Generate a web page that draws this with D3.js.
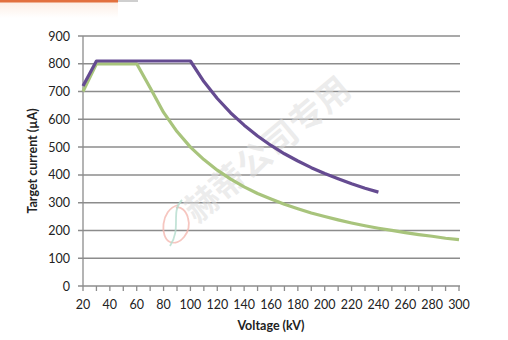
<!DOCTYPE html>
<html><head><meta charset="utf-8">
<script src="https://cdn.jsdelivr.net/npm/d3@7"></script>
<style>body{margin:0;background:#fff}svg{display:block}</style>
</head><body><svg id="c" width="508" height="340"></svg>
<script>
const voltages = [20,30,40,50,60,70,80,90,100,110,120,130,140,150,160,170,180,190,200,210,220,230,240,250,260,270,280,290,300];
const purpleSeries = [720,810,810,810,810,810,810,810,810,736,675,623,579,540,506,476,450,426,405,386,368,352,338];
const greenSeries = [700,800,800,800,800,714,625,556,500,455,417,385,357,333,313,294,278,263,250,238,227,217,208,200,192,185,179,172,167];
const yTicks = [0,100,200,300,400,500,600,700,800,900];
const xTickLabels = [20,40,60,80,100,120,140,160,180,200,220,240,260,280,300];
const xMinorTicks = voltages;
const yTitle = "Target current (µA)";
const xTitle = "Voltage (kV)";
const watermark = "赫蒂公司专用";

const svg = d3.select("#c");
const x = d3.scaleLinear().domain([20,300]).range([83,459]);
const y = d3.scaleLinear().domain([0,900]).range([286,36]);
const font = "Lato, 'Open Sans', sans-serif";

// top decoration
const defs = svg.append("defs");
const g1 = defs.append("linearGradient").attr("id","pe").attr("x1",0).attr("y1",0).attr("x2",0).attr("y2",1);
g1.append("stop").attr("offset","0").attr("stop-color","#fdeee4");
g1.append("stop").attr("offset","1").attr("stop-color","#ffffff");
svg.append("rect").attr("x",0).attr("y",2).attr("width",118).attr("height",16).attr("fill","url(#pe)");
svg.append("rect").attr("x",0).attr("y",0).attr("width",118).attr("height",2.5).attr("fill","#e2703e");
svg.append("rect").attr("x",118).attr("y",0).attr("width",20).attr("height",2).attr("fill","#cfcfcf");

// gridlines
svg.append("g").selectAll("line").data(yTicks).join("line")
  .attr("x1",78).attr("x2",460).attr("y1",d=>y(d)).attr("y2",d=>y(d))
  .attr("stroke","#8c8c8c").attr("stroke-width",1.5);

// y axis line
svg.append("line").attr("x1",83).attr("x2",83).attr("y1",36).attr("y2",286).attr("stroke","#8c8c8c").attr("stroke-width",1.3);

// x minor ticks
svg.append("g").selectAll("line").data(xMinorTicks).join("line")
  .attr("x1",d=>x(d)).attr("x2",d=>x(d)).attr("y1",286).attr("y2",291)
  .attr("stroke","#8c8c8c").attr("stroke-width",1.3);

// watermark
const wm = svg.append("g").attr("transform","translate(197,224) rotate(-40)");
wm.append("text").attr("x",0).attr("y",0).attr("font-family","'Noto Sans CJK SC', sans-serif")
  .attr("font-size",34).attr("font-weight","bold").attr("fill","#dcdcdc").attr("fill-opacity",0.55).text(watermark);
svg.append("path").attr("d","M178,205 C160,210 160,238 170,242 C180,246 192,232 188,218 C186,210 180,206 176,208").attr("fill","none").attr("stroke","#f4b8b0").attr("stroke-opacity",0.8).attr("stroke-width",1.8);
svg.append("path").attr("d","M182,200 C170,212 182,228 170,246").attr("fill","none").attr("stroke","#b4dccd").attr("stroke-opacity",0.8).attr("stroke-width",1.8);

// lines
const line = d3.line().x(d=>x(d[0])).y(d=>y(d[1]));
svg.append("path").datum(greenSeries.map((v,i)=>[voltages[i],v]))
  .attr("d",line).attr("fill","none").attr("stroke","#a8c47c").attr("stroke-width",3.2).attr("stroke-linejoin","round");
svg.append("path").datum(purpleSeries.map((v,i)=>[voltages[i],v]))
  .attr("d",line).attr("fill","none").attr("stroke","#654b91").attr("stroke-width",3.2).attr("stroke-linejoin","round");

// y labels
svg.append("g").selectAll("text").data(yTicks).join("text")
  .attr("x",70).attr("y",d=>y(d)+4.5).attr("text-anchor","end")
  .attr("font-family",font).attr("font-size",12.5).attr("fill","#222").text(d=>d);
// x labels
svg.append("g").selectAll("text").data(xTickLabels).join("text")
  .attr("x",d=>x(d)).attr("y",309).attr("text-anchor","middle")
  .attr("font-family",font).attr("font-size",12.5).attr("fill","#222").text(d=>d);

svg.append("text").attr("transform","translate(37,161) rotate(-90)").attr("text-anchor","middle")
  .attr("font-family",font).attr("font-size",12.5).attr("font-weight","bold").attr("fill","#222").text(yTitle);
svg.append("text").attr("x",271).attr("y",330).attr("text-anchor","middle")
  .attr("font-family",font).attr("font-size",12.5).attr("font-weight","bold").attr("fill","#222").text(xTitle);
</script></body></html>
